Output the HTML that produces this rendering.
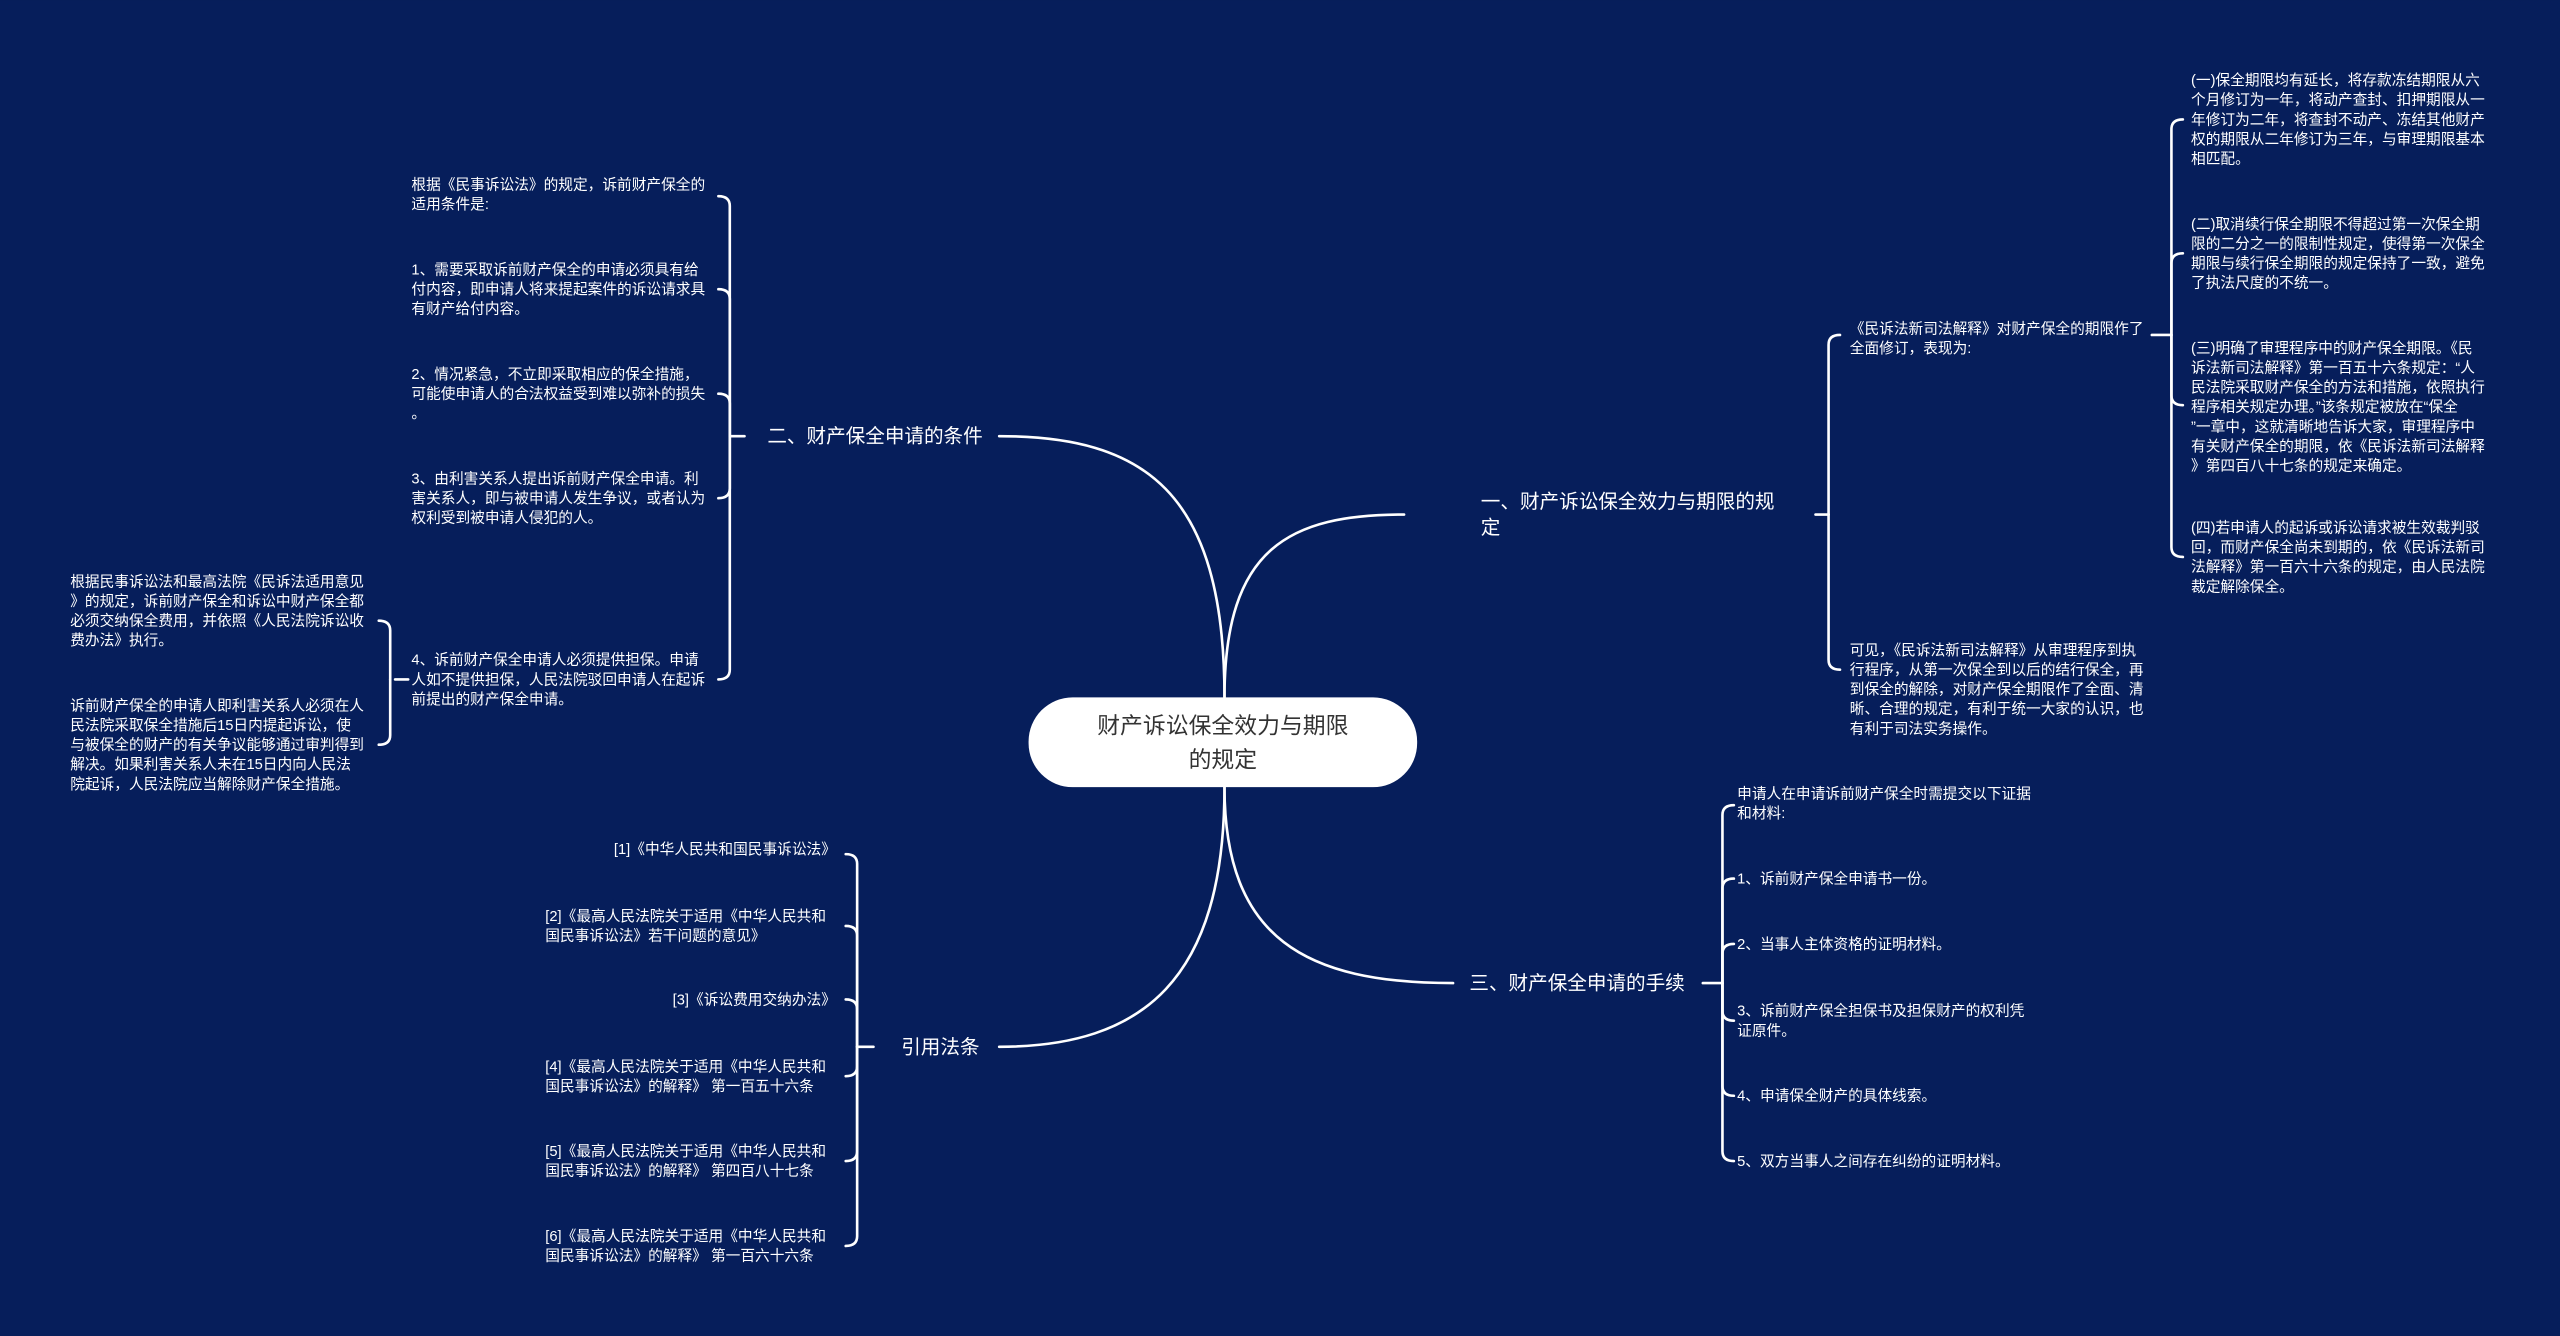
<!DOCTYPE html>
<html><head><meta charset="utf-8"><style>
html,body{margin:0;padding:0;background:#061e5b;}
svg{display:block}
text{font-family:"Liberation Sans","Noto Sans CJK SC",sans-serif;fill:#fff;}
.s{font-size:9px}
.b{font-size:12px}
</style></head><body>
<svg width="2560" height="1336" viewBox="0 0 1568 818" xmlns="http://www.w3.org/2000/svg">
<rect width="1568" height="818" fill="#061e5b"/>
<g fill="none" stroke="#fff" stroke-width="1.6" stroke-linecap="round">
<!-- main curves -->
<path d="M750 427 C750 335 790 315 860 315"/>
<path d="M750 427 C750 300 700 267 612 267"/>
<path d="M750 482 C750 575 800 602 890 602"/>
<path d="M750 482 C750 600 700 641 612 641"/>
<!-- branch 1 bracket -->
<path d="M1112 315 L1120 315"/>
<path d="M1120 315 L1120 211 Q1120 205 1127 205"/>
<path d="M1120 315 L1120 404 Q1120 410 1127 410"/>
<!-- 1a sub bracket -->
<path d="M1318 205 L1330 205"/>
<path d="M1330 205 L1330 79 Q1330 73 1337 73"/>
<path d="M1330 205 L1330 161 Q1330 155 1337 155"/>
<path d="M1330 205 L1330 242 Q1330 248 1337 248"/>
<path d="M1330 205 L1330 335 Q1330 341 1337 341"/>
<!-- branch 2 bracket -->
<path d="M447 267 L456 267"/>
<path d="M447 267 L447 126 Q447 120 440 120"/>
<path d="M447 267 L447 183 Q447 177 440 177"/>
<path d="M447 267 L447 247 Q447 241 440 241"/>
<path d="M447 267 L447 299 Q447 305 440 305"/>
<path d="M447 267 L447 410 Q447 416 440 416"/>
<!-- 2.4 sub bracket -->
<path d="M242 416 L250 416"/>
<path d="M239 416 L239 386 Q239 380 232 380"/>
<path d="M239 416 L239 450 Q239 456 232 456"/>
<!-- branch 3 bracket -->
<path d="M1043 602 L1055 602"/>
<path d="M1055 602 L1055 499 Q1055 493 1062 493"/>
<path d="M1055 602 L1055 544 Q1055 538 1062 538"/>
<path d="M1055 602 L1055 584 Q1055 578 1062 578"/>
<path d="M1055 602 L1055 619 Q1055 625 1062 625"/>
<path d="M1055 602 L1055 665 Q1055 671 1062 671"/>
<path d="M1055 602 L1055 705 Q1055 711 1062 711"/>
<!-- branch 4 bracket -->
<path d="M535 641 L525 641"/>
<path d="M525 641 L525 529 Q525 523 518 523"/>
<path d="M525 641 L525 573 Q525 567 518 567"/>
<path d="M525 641 L525 618 Q525 612 518 612"/>
<path d="M525 641 L525 653 Q525 659 518 659"/>
<path d="M525 641 L525 705 Q525 711 518 711"/>
<path d="M525 641 L525 757 Q525 763 518 763"/>
</g>
<!-- center -->
<rect x="630" y="427" width="238" height="55" rx="27" fill="#fff"/>
<text x="749" y="449" text-anchor="middle" style="font-size:14px;fill:#333">财产诉讼保全效力与期限</text>
<text x="749" y="470" text-anchor="middle" style="font-size:14px;fill:#333">的规定</text>
<!-- branch labels -->
<text class="b" x="907" y="311">一、财产诉讼保全效力与期限的规</text>
<text class="b" x="907" y="327">定</text>
<text class="b" x="470" y="271">二、财产保全申请的条件</text>
<text class="b" x="900" y="606">三、财产保全申请的手续</text>
<text class="b" x="552" y="645">引用法条</text>
<!-- branch 1 children -->
<text class="s" x="1133"><tspan x="1133" y="204">《民诉法新司法解释》对财产保全的期限作了</tspan><tspan x="1133" y="216">全面修订，表现为:</tspan></text>
<text class="s"><tspan x="1133" y="401">可见，《民诉法新司法解释》从审理程序到执</tspan><tspan x="1133" y="413">行程序，从第一次保全到以后的结行保全，再</tspan><tspan x="1133" y="425">到保全的解除，对财产保全期限作了全面、清</tspan><tspan x="1133" y="437">晰、合理的规定，有利于统一大家的认识，也</tspan><tspan x="1133" y="449">有利于司法实务操作。</tspan></text>
<text class="s"><tspan x="1342" y="52">(一)保全期限均有延长，将存款冻结期限从六</tspan><tspan x="1342" y="64">个月修订为一年，将动产查封、扣押期限从一</tspan><tspan x="1342" y="76">年修订为二年，将查封不动产、冻结其他财产</tspan><tspan x="1342" y="88">权的期限从二年修订为三年，与审理期限基本</tspan><tspan x="1342" y="100">相匹配。</tspan></text>
<text class="s"><tspan x="1342" y="140">(二)取消续行保全期限不得超过第一次保全期</tspan><tspan x="1342" y="152">限的二分之一的限制性规定，使得第一次保全</tspan><tspan x="1342" y="164">期限与续行保全期限的规定保持了一致，避免</tspan><tspan x="1342" y="176">了执法尺度的不统一。</tspan></text>
<text class="s"><tspan x="1342" y="216">(三)明确了审理程序中的财产保全期限。《民</tspan><tspan x="1342" y="228">诉法新司法解释》第一百五十六条规定：“人</tspan><tspan x="1342" y="240">民法院采取财产保全的方法和措施，依照执行</tspan><tspan x="1342" y="252">程序相关规定办理。”该条规定被放在“保全</tspan><tspan x="1342" y="264">”一章中，这就清晰地告诉大家，审理程序中</tspan><tspan x="1342" y="276">有关财产保全的期限，依《民诉法新司法解释</tspan><tspan x="1342" y="288">》第四百八十七条的规定来确定。</tspan></text>
<text class="s"><tspan x="1342" y="326">(四)若申请人的起诉或诉讼请求被生效裁判驳</tspan><tspan x="1342" y="338">回，而财产保全尚未到期的，依《民诉法新司</tspan><tspan x="1342" y="350">法解释》第一百六十六条的规定，由人民法院</tspan><tspan x="1342" y="362">裁定解除保全。</tspan></text>
<!-- branch 2 children -->
<text class="s"><tspan x="252" y="116">根据《民事诉讼法》的规定，诉前财产保全的</tspan><tspan x="252" y="128">适用条件是:</tspan></text>
<text class="s"><tspan x="252" y="168">1、需要采取诉前财产保全的申请必须具有给</tspan><tspan x="252" y="180">付内容，即申请人将来提起案件的诉讼请求具</tspan><tspan x="252" y="192">有财产给付内容。</tspan></text>
<text class="s"><tspan x="252" y="232">2、情况紧急，不立即采取相应的保全措施，</tspan><tspan x="252" y="244">可能使申请人的合法权益受到难以弥补的损失</tspan><tspan x="252" y="256">。</tspan></text>
<text class="s"><tspan x="252" y="296">3、由利害关系人提出诉前财产保全申请。利</tspan><tspan x="252" y="308">害关系人，即与被申请人发生争议，或者认为</tspan><tspan x="252" y="320">权利受到被申请人侵犯的人。</tspan></text>
<text class="s"><tspan x="252" y="407">4、诉前财产保全申请人必须提供担保。申请</tspan><tspan x="252" y="419">人如不提供担保，人民法院驳回申请人在起诉</tspan><tspan x="252" y="431">前提出的财产保全申请。</tspan></text>
<text class="s"><tspan x="43" y="359">根据民事诉讼法和最高法院《民诉法适用意见</tspan><tspan x="43" y="371">》的规定，诉前财产保全和诉讼中财产保全都</tspan><tspan x="43" y="383">必须交纳保全费用，并依照《人民法院诉讼收</tspan><tspan x="43" y="395">费办法》执行。</tspan></text>
<text class="s"><tspan x="43" y="435">诉前财产保全的申请人即利害关系人必须在人</tspan><tspan x="43" y="447">民法院采取保全措施后15日内提起诉讼，使</tspan><tspan x="43" y="459">与被保全的财产的有关争议能够通过审判得到</tspan><tspan x="43" y="471">解决。如果利害关系人未在15日内向人民法</tspan><tspan x="43" y="483">院起诉，人民法院应当解除财产保全措施。</tspan></text>
<!-- branch 3 children -->
<text class="s"><tspan x="1064" y="489">申请人在申请诉前财产保全时需提交以下证据</tspan><tspan x="1064" y="501">和材料:</tspan></text>
<text class="s" x="1064" y="541">1、诉前财产保全申请书一份。</text>
<text class="s" x="1064" y="581">2、当事人主体资格的证明材料。</text>
<text class="s"><tspan x="1064" y="622">3、诉前财产保全担保书及担保财产的权利凭</tspan><tspan x="1064" y="634">证原件。</tspan></text>
<text class="s" x="1064" y="674">4、申请保全财产的具体线索。</text>
<text class="s" x="1064" y="714">5、双方当事人之间存在纠纷的证明材料。</text>
<!-- branch 4 children -->
<text class="s" x="512" y="523" text-anchor="end">[1]《中华人民共和国民事诉讼法》</text>
<text class="s"><tspan x="334" y="564">[2]《最高人民法院关于适用《中华人民共和</tspan><tspan x="334" y="576">国民事诉讼法》若干问题的意见》</tspan></text>
<text class="s" x="512" y="615" text-anchor="end">[3]《诉讼费用交纳办法》</text>
<text class="s"><tspan x="334" y="656">[4]《最高人民法院关于适用《中华人民共和</tspan><tspan x="334" y="668">国民事诉讼法》的解释》 第一百五十六条</tspan></text>
<text class="s"><tspan x="334" y="708">[5]《最高人民法院关于适用《中华人民共和</tspan><tspan x="334" y="720">国民事诉讼法》的解释》 第四百八十七条</tspan></text>
<text class="s"><tspan x="334" y="760">[6]《最高人民法院关于适用《中华人民共和</tspan><tspan x="334" y="772">国民事诉讼法》的解释》 第一百六十六条</tspan></text>
</svg>
</body></html>
